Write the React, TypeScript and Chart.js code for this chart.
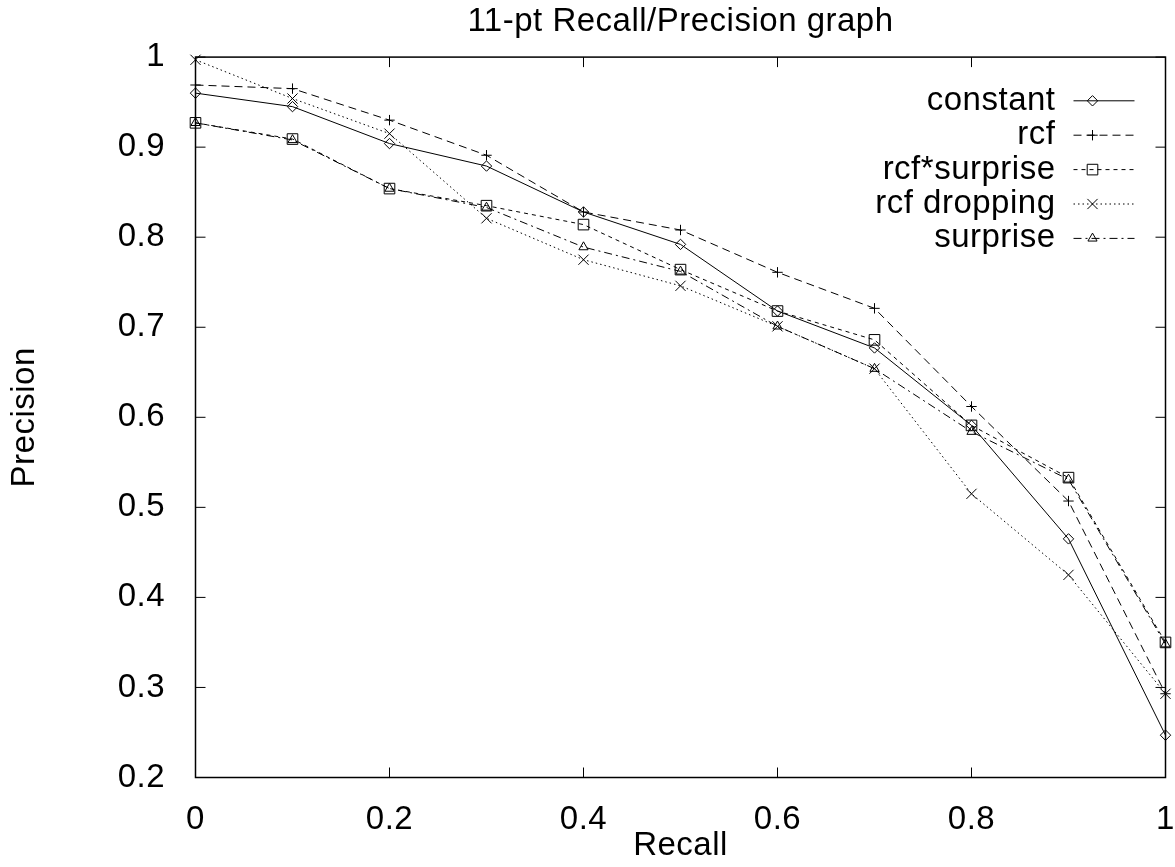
import React, { useEffect, useRef } from "react";
import { Chart, registerables } from "chart.js";
import { drawPoint } from "chart.js/helpers";

Chart.register(...registerables);

const recall = [0, 0.1, 0.2, 0.3, 0.4, 0.5, 0.6, 0.7, 0.8, 0.9, 1];
const constantP = [0.96, 0.945, 0.904, 0.879, 0.828, 0.792, 0.718, 0.677, 0.591, 0.465, 0.247];
const rcfP = [0.969, 0.965, 0.93, 0.891, 0.828, 0.808, 0.761, 0.721, 0.612, 0.507, 0.293];
const rcfSurpriseP = [0.927, 0.909, 0.854, 0.835, 0.814, 0.764, 0.718, 0.686, 0.591, 0.533, 0.35];
const rcfDroppingP = [0.997, 0.954, 0.915, 0.821, 0.775, 0.746, 0.701, 0.654, 0.515, 0.425, 0.293];
const surpriseP = [0.927, 0.908, 0.854, 0.833, 0.789, 0.762, 0.701, 0.654, 0.584, 0.531, 0.348];

const seriesLabels = ["constant", "rcf", "rcf*surprise", "rcf dropping", "surprise"];
const seriesValues = [constantP, rcfP, rcfSurpriseP, rcfDroppingP, surpriseP];
const seriesMarkers = ["rectRot", "cross", "rect", "crossRot", "triangle"];
const seriesMarkerRadius = [5.2, 5.2, 7.5, 7.2, 5.3];
const seriesDash: number[][] = [[], [8, 5], [4, 4], [1.5, 3], [8, 4, 2, 4]];

const xTicks = [0, 0.2, 0.4, 0.6, 0.8, 1];
const yTicks = [0.2, 0.3, 0.4, 0.5, 0.6, 0.7, 0.8, 0.9, 1];

const titleText = "11-pt Recall/Precision graph";
const xTitle = "Recall";
const yTitle = "Precision";

const FONT = "'Liberation Sans', Arial, Helvetica, sans-serif";
const FS = 33;
const LETTER_SPACING = "0.5px";

const spacingPlugin = {
  id: "gnuSpacing",
  beforeInit(chart: any) {
    try { chart.ctx.letterSpacing = LETTER_SPACING; } catch (e) {}
  },
  beforeUpdate(chart: any) {
    try { chart.ctx.letterSpacing = LETTER_SPACING; } catch (e) {}
  },
  beforeDraw(chart: any) {
    try { chart.ctx.letterSpacing = LETTER_SPACING; } catch (e) {}
  },
};

const framePlugin = {
  id: "gnuFrame",
  beforeDatasetsDraw(chart: any) {
    const { ctx, chartArea: a, scales } = chart;
    ctx.save();
    ctx.strokeStyle = "#000";
    ctx.setLineDash([]);
    ctx.lineWidth = 1.5;
    ctx.strokeRect(a.left, a.top, a.right - a.left, a.bottom - a.top);
    ctx.lineWidth = 1;
    const TL = 10;
    ctx.beginPath();
    scales.x.ticks.forEach((t: any) => {
      const px = scales.x.getPixelForValue(t.value);
      ctx.moveTo(px, a.bottom);
      ctx.lineTo(px, a.bottom - TL);
      ctx.moveTo(px, a.top);
      ctx.lineTo(px, a.top + TL);
    });
    scales.y.ticks.forEach((t: any) => {
      const py = scales.y.getPixelForValue(t.value);
      ctx.moveTo(a.left, py);
      ctx.lineTo(a.left + TL, py);
      ctx.moveTo(a.right, py);
      ctx.lineTo(a.right - TL, py);
    });
    ctx.stroke();
    ctx.restore();
  },
};

const legendPlugin = {
  id: "gnuLegend",
  afterDatasetsDraw(chart: any) {
    const { ctx, chartArea: a } = chart;
    const textRight = a.right - 110;
    const lineStart = a.right - 92;
    const lineEnd = a.right - 31;
    const markX = a.right - 73;
    const y0 = a.top + 43.7;
    const step = 34.4;
    ctx.save();
    chart.data.datasets.forEach((ds: any, i: number) => {
      const y = y0 + i * step;
      ctx.font = `${FS}px ${FONT}`;
      ctx.fillStyle = "#000";
      ctx.textAlign = "right";
      ctx.textBaseline = "middle";
      ctx.fillText(ds.label, textRight, y);
      ctx.strokeStyle = "#000";
      ctx.lineWidth = 1;
      ctx.setLineDash(ds.borderDash || []);
      ctx.beginPath();
      ctx.moveTo(lineStart, y);
      ctx.lineTo(lineEnd, y);
      ctx.stroke();
      ctx.setLineDash([]);
      ctx.fillStyle = "rgba(0,0,0,0)";
      ctx.strokeStyle = "#000";
      ctx.lineWidth = 1;
      drawPoint(ctx, { pointStyle: ds.pointStyle, rotation: 0, radius: ds.pointRadius, borderWidth: 1 } as any, markX, y);
    });
    ctx.restore();
  },
};

export default function App() {
  const ref = useRef<HTMLCanvasElement | null>(null);
  useEffect(() => {
    if (!ref.current) return;
    const datasets = seriesLabels.map((label, i) => ({
      label,
      data: recall.map((x, j) => ({ x, y: seriesValues[i][j] })),
      borderColor: "#000",
      borderWidth: 1,
      borderDash: seriesDash[i],
      backgroundColor: "rgba(0,0,0,0)",
      pointStyle: seriesMarkers[i],
      pointRadius: seriesMarkerRadius[i],
      pointBorderColor: "#000",
      pointBackgroundColor: "rgba(0,0,0,0)",
      pointBorderWidth: 1,
      fill: false,
      tension: 0,
      clip: false as any,
    }));
    const tickFont = { family: FONT, size: FS, weight: "normal" as any };
    const chart = new Chart(ref.current, {
      type: "line",
      data: { datasets: datasets as any },
      options: {
        responsive: false,
        animation: false,
        events: [],
        layout: { padding: { left: 0, right: 9.5, top: 0, bottom: 0 } },
        plugins: {
          legend: { display: false },
          tooltip: { enabled: false },
          title: {
            display: true,
            text: titleText,
            color: "#000",
            font: tickFont,
            fullSize: false,
            padding: { top: 2.5, bottom: 15 },
          },
        },
        scales: {
          x: {
            type: "linear",
            min: 0,
            max: 1,
            grid: { display: false },
            border: { display: false },
            afterBuildTicks: (scale: any) => {
              scale.ticks = xTicks.map((v) => ({ value: v }));
            },
            afterFit: (scale: any) => {
              scale.height = 89.5;
              scale.paddingLeft = 0;
              scale.paddingRight = 0;
            },
            ticks: {
              color: "#000",
              font: tickFont,
              padding: 15,
              maxRotation: 0,
              autoSkip: false,
              callback: (v: any) => String(v),
            },
            title: {
              display: true,
              text: xTitle,
              color: "#000",
              font: tickFont,
              padding: { top: 0, bottom: 1.5 },
            },
          },
          y: {
            type: "linear",
            min: 0.2,
            max: 1,
            grid: { display: false },
            border: { display: false },
            afterBuildTicks: (scale: any) => {
              scale.ticks = yTicks.map((v) => ({ value: v }));
            },
            afterFit: (scale: any) => {
              scale.width = 195.5;
              scale.paddingTop = 0;
              scale.paddingBottom = 0;
            },
            ticks: {
              color: "#000",
              font: tickFont,
              padding: 22.5,
              autoSkip: false,
              callback: (v: any) => String(v),
            },
            title: {
              display: true,
              text: yTitle,
              color: "#000",
              font: tickFont,
              padding: { top: 5, bottom: 0 },
            },
          },
        },
      },
      plugins: [spacingPlugin, framePlugin, legendPlugin],
    });
    return () => chart.destroy();
  }, []);
  return (
    <div style={{ position: "absolute", left: 0, top: 0, width: 1175, height: 867, background: "#fff" }}>
      <canvas ref={ref} width={1175} height={867} style={{ display: "block" }} />
    </div>
  );
}
